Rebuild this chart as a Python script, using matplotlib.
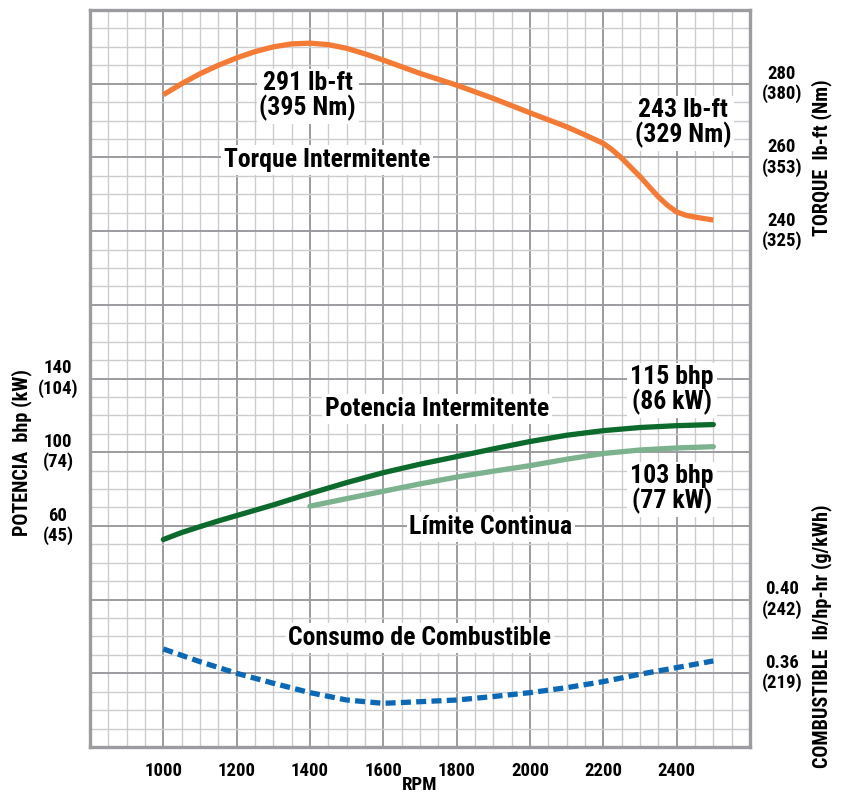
import matplotlib
matplotlib.use("Agg")
import matplotlib.pyplot as plt
from matplotlib.ticker import MultipleLocator
import matplotlib.transforms as mtransforms

# --- data -------------------------------------------------------------
torque_rpm = [1000, 1050, 1100, 1150, 1200, 1250, 1300, 1350, 1400, 1450,
              1500, 1550, 1600, 1700, 1800, 1900, 2000, 2100, 2150, 2200,
              2225, 2250, 2300, 2350, 2375, 2400, 2425, 2450, 2500]
torque_lbft = [277, 280, 282.7, 285, 287, 288.7, 290, 290.8, 291, 290.6,
               289.6, 288.1, 286.4, 282.8, 279.6, 276, 272.1, 268.3, 266.1, 263.8,
               262, 259.8, 254.8, 249.3, 247, 245.2, 244.3, 243.8, 243]

power_rpm = [1000, 1050, 1100, 1150, 1200, 1300, 1400, 1500, 1600, 1700,
             1800, 1900, 2000, 2100, 2200, 2300, 2400, 2500]
power_bhp = [52.6, 56.4, 59.6, 62.7, 65.6, 71.4, 77.6, 83.5, 88.9, 93.5,
             97.6, 101.8, 105.8, 109.2, 111.7, 113.4, 114.4, 115]

cont_rpm = [1400, 1500, 1600, 1700, 1800, 1900, 2000, 2100, 2200, 2300, 2400, 2500]
cont_bhp = [70.7, 74.8, 78.8, 82.8, 86.5, 89.7, 92.7, 96.2, 99.3, 101.2, 102.3, 103]

fuel_rpm = [1000, 1100, 1200, 1300, 1400, 1500, 1600, 1700, 1800, 1900,
            2000, 2100, 2200, 2300, 2400, 2500]
fuel_bsfc = [0.3732, 0.3663, 0.360, 0.3546, 0.3495, 0.3455, 0.3437, 0.3446,
             0.3455, 0.3474, 0.3495, 0.3522, 0.3555, 0.3595, 0.3631, 0.3667]

x_ticks = [1000, 1200, 1400, 1600, 1800, 2000, 2200, 2400]
torque_ticks = [240, 260, 280]
torque_nm = ["325", "353", "380"]
power_ticks = [60, 100, 140]
power_kw = ["45", "74", "104"]
fuel_ticks = [0.36, 0.40]
fuel_gkwh = ["219", "242"]

# --- style ------------------------------------------------------------
FONT = ["Liberation Sans Narrow", "Roboto Condensed", "Open Sans Condensed",
        "Lato", "DejaVu Sans"]
plt.rcParams["font.family"] = FONT
plt.rcParams["font.weight"] = "bold"
WEIGHT = "black"

ORANGE = "#F47B35"
DGREEN = "#0C6A2C"
LGREEN = "#7DB28F"
BLUE = "#0A68B4"
MAJOR = "#9C9CA0"
MINOR = "#CCCCCE"

W, H = 844, 795
fig = plt.figure(figsize=(W / 100, H / 100), dpi=100)
L, R, T, B = 90, 750, 10, 747
rect = [L / W, 1 - B / H, (R - L) / W, (B - T) / H]

ax = fig.add_axes(rect)
ax.set_xlim(800, 2600)
ax.set_ylim(100, 300)
ax.xaxis.set_major_locator(MultipleLocator(200))
ax.xaxis.set_minor_locator(MultipleLocator(50))
ax.yaxis.set_major_locator(MultipleLocator(20))
ax.yaxis.set_minor_locator(MultipleLocator(5))
ax.grid(which="minor", color=MINOR, lw=1.0)
ax.grid(which="major", color=MAJOR, lw=1.4)
ax.set_axisbelow(True)
ax.tick_params(which="both", length=0)
ax.set_yticklabels([])
ax.set_xticks(range(800, 2601, 200))
ax.set_xticklabels([str(v) if v in x_ticks else "" for v in range(800, 2601, 200)],
                   fontsize=13.5, fontweight=WEIGHT)
ax.tick_params(axis="x", pad=11)
ax.set_xlabel("RPM", fontsize=13.5, fontweight=WEIGHT, labelpad=-3)
for s in ax.spines.values():
    s.set_color(MAJOR)
    s.set_linewidth(2.4)

# torque on the base axes
ax.plot(torque_rpm, torque_lbft, color=ORANGE, lw=3.8, solid_capstyle="butt",
        solid_joinstyle="round", zorder=5)

# power axis
ax_p = ax.twinx()
ax_p.set_ylim(-60, 340)
ax_p.plot(power_rpm, power_bhp, color=DGREEN, lw=3.8, solid_capstyle="round",
          solid_joinstyle="round", zorder=5)
ax_p.plot(cont_rpm, cont_bhp, color=LGREEN, lw=3.8, solid_capstyle="round",
          solid_joinstyle="round", zorder=4)

# fuel axis
ax_f = ax.twinx()
ax_f.set_ylim(0.32, 0.72)
ax_f.plot(fuel_rpm, fuel_bsfc, color=BLUE, lw=3.8, dashes=(1.9, 1.0), zorder=5)

for a in (ax_p, ax_f):
    a.set_yticks([])
    for s in a.spines.values():
        s.set_visible(False)

# two-line tick labels at the sides
tick_kw = dict(ha="center", va="center", fontsize=13.5, fontweight=WEIGHT,
               linespacing=1.1, clip_on=False)
tr_t = mtransforms.blended_transform_factory(ax.transAxes, ax.transData)
for v, nm in zip(torque_ticks, torque_nm):
    ax.text(1.0485, v, f"{v}\n({nm})", transform=tr_t, **tick_kw)
tr_p = mtransforms.blended_transform_factory(ax_p.transAxes, ax_p.transData)
for v, kw in zip(power_ticks, power_kw):
    ax_p.text(-0.0485, v, f"{v}\n({kw})", transform=tr_p, **tick_kw)
tr_f = mtransforms.blended_transform_factory(ax_f.transAxes, ax_f.transData)
for v, g in zip(fuel_ticks, fuel_gkwh):
    ax_f.text(1.0485, v, f"{v:.2f}\n({g})", transform=tr_f, **tick_kw)

lab_kw = dict(rotation=90, ha="center", va="center", fontsize=14.5,
              fontweight=WEIGHT, clip_on=False)
ax_p.text(-0.103, 100, "POTENCIA  bhp (kW)", transform=tr_p, **lab_kw)
ax.text(1.109, 260, "TORQUE  lb-ft (Nm)", transform=tr_t, **lab_kw)
ax_f.text(1.109, 0.38, "COMBUSTIBLE  lb/hp-hr (g/kWh)", transform=tr_f, **lab_kw)

# curve annotations
ann_kw = dict(ha="center", va="center", fontsize=18.5, fontweight=WEIGHT,
              linespacing=1.0, transform=ax.transAxes, zorder=3,
              bbox=dict(facecolor="white", edgecolor="none", pad=2))
ax.text(0.330, 0.883, "291 lb-ft\n(395 Nm)", **ann_kw)
ax.text(0.359, 0.7965, "Torque Intermitente", **ann_kw)
ax.text(0.8985, 0.8467, "243 lb-ft\n(329 Nm)", **ann_kw)
ax.text(0.8818, 0.4844, "115 bhp\n(86 kW)", **ann_kw)
ax.text(0.5258, 0.4586, "Potencia Intermitente", **ann_kw)
ax.text(0.8818, 0.3501, "103 bhp\n(77 kW)", **ann_kw)
ax.text(0.6076, 0.2985, "Límite Continua", **ann_kw)
ax.text(0.5, 0.1479, "Consumo de Combustible", **ann_kw)

fig.savefig("out.png", dpi=100)
